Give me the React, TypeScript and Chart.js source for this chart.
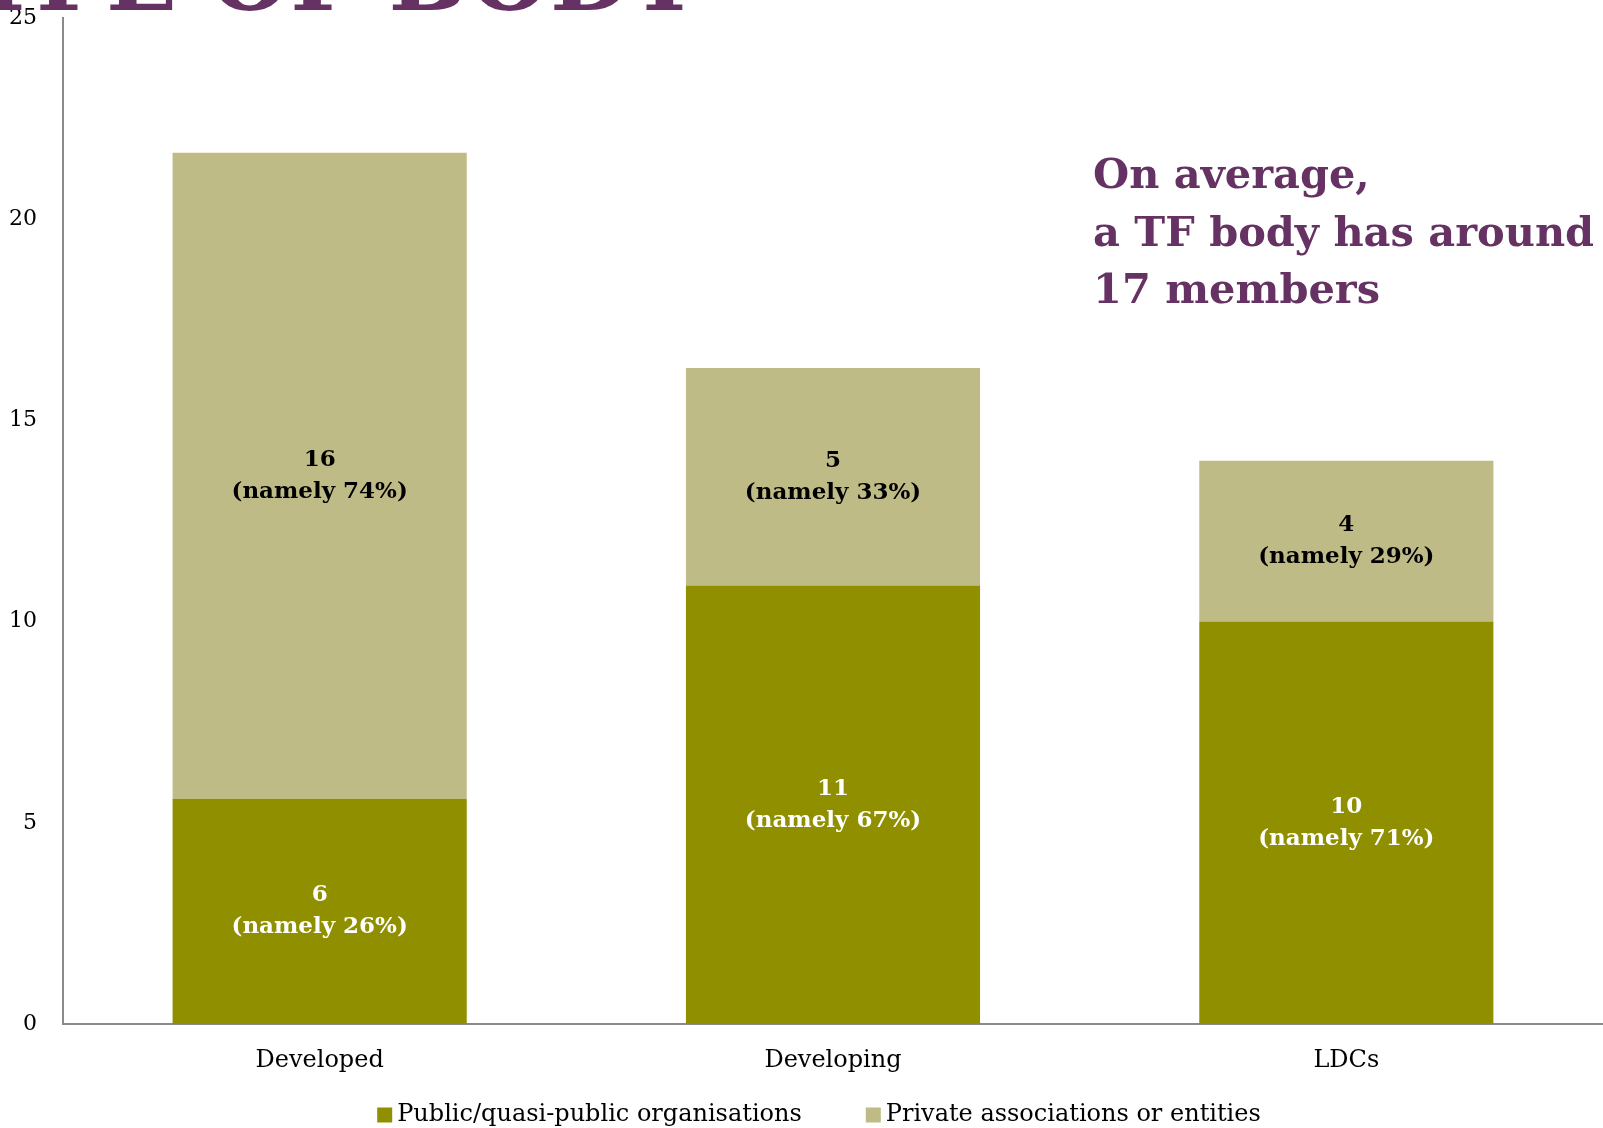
import React, { useEffect, useRef } from "react";
import { Chart, registerables } from "chart.js";

Chart.register(...registerables);

const categories = ["Developed", "Developing", "LDCs"];
const seriesNames = ["Public/quasi-public organisations", "Private associations or entities"];
const publicValues = [5.6, 10.9, 10.0];
const privateValues = [16.05, 5.4, 4.0];
const publicCounts = ["6", "11", "10"];
const publicShares = ["(namely 26%)", "(namely 67%)", "(namely 71%)"];
const privateCounts = ["16", "5", "4"];
const privateShares = ["(namely 74%)", "(namely 33%)", "(namely 29%)"];
const yMin = 0;
const yMax = 25;
const yStep = 5;
const annotationLines = ["On average,", "a TF body has around", "17 members"];
const titleText = "TYPE OF BODY";

const PUBLIC_COLOR = "#8F8F00";
const PRIVATE_COLOR = "#BFBB87";
const PURPLE = "#653263";
const SERIF = "'DejaVu Serif', serif";

const W = 1603;
const H = 1128;

export default function App() {
  const ref = useRef<HTMLCanvasElement | null>(null);

  useEffect(() => {
    if (!ref.current) return;

    const labelPlugin = {
      id: "barLabels",
      afterDatasetsDraw(chart: any) {
        const ctx = chart.ctx;
        const sets = [
          { counts: publicCounts, shares: publicShares, color: "#FFFFFF" },
          { counts: privateCounts, shares: privateShares, color: "#000000" },
        ];
        ctx.save();
        ctx.font = `bold 23px ${SERIF}`;
        ctx.textAlign = "center";
        ctx.textBaseline = "middle";
        sets.forEach((s, di) => {
          const meta = chart.getDatasetMeta(di);
          meta.data.forEach((el: any, i: number) => {
            const cy = (el.y + el.base) / 2;
            ctx.fillStyle = s.color;
            ctx.fillText(s.counts[i], el.x, cy - 16);
            ctx.fillText(s.shares[i], el.x, cy + 16);
          });
        });
        ctx.restore();
      },
      afterDraw(chart: any) {
        const ctx = chart.ctx;
        // cut-off heading at the top of the slide
        ctx.save();
        ctx.font = `bold 93px ${SERIF}`;
        ctx.fillStyle = PURPLE;
        ctx.textAlign = "right";
        ctx.textBaseline = "alphabetic";
        ctx.fillText(titleText, 697, 10);
        ctx.restore();

        // legend
        ctx.save();
        ctx.font = `24px ${SERIF}`;
        ctx.textBaseline = "middle";
        ctx.textAlign = "left";
        const box = 15;
        const boxGap = 5;
        const itemGap = 64;
        const items = chart.data.datasets.map((d: any) => ({
          text: d.label,
          color: d.backgroundColor,
          w: ctx.measureText(d.label).width,
        }));
        const total =
          items.reduce((s: number, it: any) => s + box + boxGap + it.w, 0) +
          itemGap * (items.length - 1);
        let x = 819 - total / 2;
        const cy = 1115;
        items.forEach((it: any) => {
          ctx.fillStyle = it.color;
          ctx.fillRect(x, cy - box / 2, box, box);
          x += box + boxGap;
          ctx.fillStyle = "#000000";
          ctx.fillText(it.text, x, cy);
          x += it.w + itemGap;
        });
        ctx.restore();
      },
    };

    const chart = new Chart(ref.current, {
      type: "bar",
      data: {
        labels: categories,
        datasets: [
          {
            label: seriesNames[0],
            data: publicValues,
            backgroundColor: PUBLIC_COLOR,
            categoryPercentage: 0.573,
            barPercentage: 1,
          },
          {
            label: seriesNames[1],
            data: privateValues,
            backgroundColor: PRIVATE_COLOR,
            categoryPercentage: 0.573,
            barPercentage: 1,
          },
        ],
      },
      options: {
        responsive: false,
        animation: false,
        devicePixelRatio: 1,
        layout: { padding: { top: 18, left: 0, right: 0, bottom: 0 } },
        plugins: {
          tooltip: { enabled: false },
          title: { display: false },
          legend: { display: false },
        },
        scales: {
          x: {
            stacked: true,
            grid: { display: false, drawTicks: false },
            border: { display: true, color: "#8a8a8a", width: 2 },
            ticks: {
              color: "#000000",
              font: { family: SERIF, size: 24 },
              padding: 22,
            },
            afterFit(scale: any) {
              scale.height = 104;
            },
          },
          y: {
            stacked: true,
            min: yMin,
            max: yMax,
            grid: { display: false, drawTicks: true, tickLength: 26 },
            border: { display: true, color: "#8a8a8a", width: 2 },
            ticks: {
              stepSize: yStep,
              color: "#000000",
              font: { family: SERIF, size: 22 },
              padding: 0,
            },
            afterFit(scale: any) {
              scale.width = 63;
            },
          },
        },
      },
      plugins: [labelPlugin],
    } as any);

    return () => chart.destroy();
  }, []);

  return (
    <div
      style={{
        position: "absolute",
        left: 0,
        top: 0,
        width: W,
        height: H,
        overflow: "hidden",
        background: "#FFFFFF",
      }}
    >
      <canvas ref={ref} width={W} height={H} style={{ display: "block" }} />
      <div
        style={{
          position: "absolute",
          left: 1093,
          top: 145,
          fontFamily: SERIF,
          fontWeight: "bold",
          fontSize: 41.5,
          lineHeight: "57.5px",
          color: PURPLE,
          whiteSpace: "pre",
        }}
      >
        {annotationLines.map((l, i) => (
          <div key={i}>{l}</div>
        ))}
      </div>
    </div>
  );
}
